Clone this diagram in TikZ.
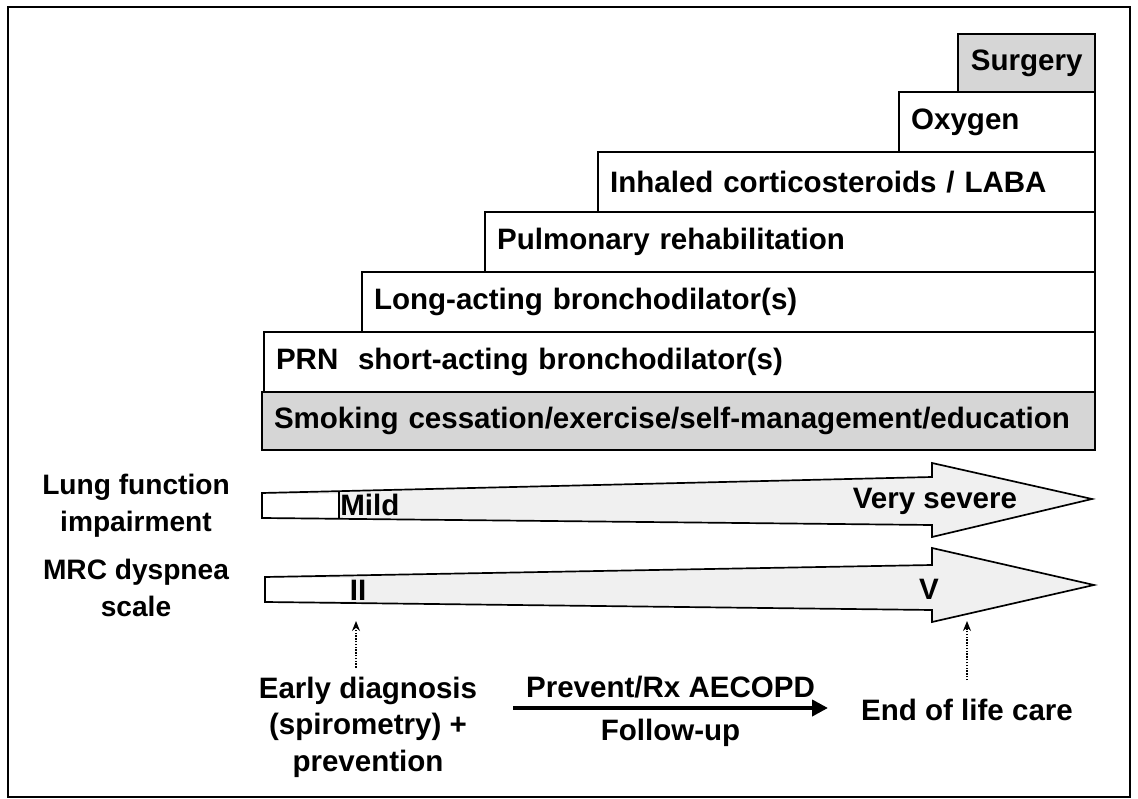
\documentclass[tikz,border=0pt]{standalone}
\usepackage{fontspec}
\setmainfont{Liberation Sans}
\usetikzlibrary{
  positioning,
  arrows.meta,
  calc
}
\definecolor{stippleGray}{HTML}{D6D6D6}
\definecolor{shaftGray}{HTML}{F0F0F0}
\tikzset{
  tier/.style     = {rectangle, draw=black, line width=1.2pt, fill=white,
                     minimum height=1.5cm, inner xsep=0.3cm, inner ysep=0pt,
                     outer sep=0pt, align=left, anchor=south east,
                     font=\fontsize{21}{24}\selectfont\bfseries},
  sideLbl/.style  = {align=center, font=\fontsize{20}{26}\selectfont\bfseries},
  scaleLbl/.style = {inner sep=0pt, font=\fontsize{21}{24}\selectfont\bfseries},
  note/.style     = {align=center, font=\fontsize{21}{26}\selectfont\bfseries},
  scaleArrow/.style = {draw=black, line width=1.2pt, fill=shaftGray,
                       line join=miter},
  dotArrow/.style = {-{Stealth[length=2.5mm, width=2mm]}, densely dotted,
                     line width=1pt},
  rxArrow/.style  = {-{Triangle[length=4mm, width=4mm]}, line width=3pt}
}

\begin{document}
\begin{tikzpicture}[x=0.025cm, y=-0.025cm]
\useasboundingbox (0,0) rectangle (1138,799);
\draw[line width=0.8pt] (8,7) rectangle (1130,797);

% treatment steps
\node[tier, fill=stippleGray, text width=20.225cm, minimum height=1.45cm,
      anchor=south west]
  (smoking) at (262,450) {Smoking cessation/exercise/self-management/education};
\node[tier, text width=20.175cm] (prn) at (smoking.north east)
  {PRN\ \ short-acting bronchodilator(s)};
\node[tier, text width=17.725cm] (laba) at (prn.north east)
  {Long-acting bronchodilator(s)};
\node[tier, text width=14.65cm] (rehab) at (laba.north east)
  {Pulmonary rehabilitation};
\node[tier, text width=11.825cm] (ics) at (rehab.north east)
  {Inhaled corticosteroids / LABA};
\node[tier, text width=4.3cm] (oxygen) at (ics.north east) {Oxygen};
\node[tier, fill=stippleGray, align=center, inner xsep=0pt,
      minimum width=3.425cm, minimum height=1.45cm] (surgery) at (oxygen.north east)
  {Surgery};

% lung function scale
\node[sideLbl] (lungLbl) at (136,506) {Lung function\\impairment};
\draw[scaleArrow] (262,493) -- (932,477) -- (932,463) -- (1092,499)
  -- (932,537) -- (932,525) -- (262,518) -- cycle;
\fill[white] (263,494) rectangle (338,517);
\draw[line width=1.2pt] (339,492.5) -- (339,518.5);
\node[scaleLbl, anchor=west] (mild) at (340,505) {Mild};
\node[scaleLbl] (vsevere) at (935,501) {Very severe};

% MRC dyspnea scale
\node[sideLbl] (mrcLbl) at (136,588) {MRC dyspnea\\scale};
\draw[scaleArrow] (265,577) -- (932,565) -- (932,548) -- (1094,585)
  -- (932,622) -- (932,610) -- (265,602) -- cycle;
\fill[white] (266,578) rectangle (351,601);
\node[scaleLbl] (mrcII) at (358,590) {II};
\node[scaleLbl] (mrcV) at (929,589) {V};
\coordinate (mrcFoot) at (0,621);

% care stages
\node[note] (early) at (368,727) {Early diagnosis\\(spirometry) +\\prevention};
\node[note] (eol) at (967,710) {End of life care};
\draw[dotArrow, shorten <=0.1cm] (early.north -| 356,0) -- (356,0 |- mrcFoot);
\draw[dotArrow, shorten <=0.35cm] (eol.north) -- (eol.north |- mrcFoot);

\coordinate (rxStart) at (513,708);
\coordinate (rxEnd) at (828,708);
\draw[rxArrow] (rxStart) -- (rxEnd)
  node[note, midway, above=2pt] (rxLbl) {Prevent/Rx AECOPD}
  node[note, midway, below=3pt] (fuLbl) {Follow-up};
\end{tikzpicture}
\end{document}
